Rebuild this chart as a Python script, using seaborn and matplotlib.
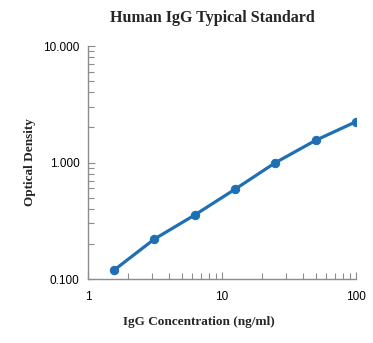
import matplotlib
matplotlib.use("Agg")
import matplotlib.pyplot as plt
import matplotlib.ticker as mticker
import seaborn as sns
import pandas as pd

concentration = [1.5625, 3.125, 6.25, 12.5, 25, 50, 100]
optical_density = [0.119, 0.220, 0.354, 0.589, 0.996, 1.55, 2.24]
y_ticks = [0.1, 1, 10]
y_tick_labels = ["0.100", "1.000", "10.000"]
x_ticks = [1, 10, 100]
x_tick_labels = ["1", "10", "100"]

sns.set_theme(style="white")
plt.rcParams['font.family'] = ['Liberation Sans', 'DejaVu Sans']

df = pd.DataFrame({"conc": concentration, "od": optical_density})

fig = plt.figure(figsize=(3.73, 3.43), dpi=100)
ax = fig.add_axes([88/373, 1 - 279/343, (356 - 88)/373, (279 - 46)/343])

color = "#1f6fb4"
sns.lineplot(data=df, x="conc", y="od", ax=ax, color=color, linewidth=2.3,
             marker="o", markersize=6, markeredgecolor=color, markerfacecolor=color)

ax.set_xscale("log")
ax.set_yscale("log")
ax.set_xlim(1, 100)
ax.set_ylim(0.1, 10)
ax.set_xticks(x_ticks)
ax.set_xticklabels(x_tick_labels)
ax.set_yticks(y_ticks)
ax.set_yticklabels(y_tick_labels)
ax.xaxis.set_minor_locator(mticker.LogLocator(base=10, subs=range(2, 10)))
ax.yaxis.set_minor_locator(mticker.LogLocator(base=10, subs=range(2, 10)))
ax.xaxis.set_minor_formatter(mticker.NullFormatter())
ax.yaxis.set_minor_formatter(mticker.NullFormatter())

grey = "#8c8c8c"
for side in ["top", "right"]:
    ax.spines[side].set_visible(False)
for side in ["left", "bottom"]:
    ax.spines[side].set_color(grey)
    ax.spines[side].set_linewidth(1.0)

ax.tick_params(axis="both", which="both", direction="in", color=grey,
               labelsize=8.5, labelcolor="black", width=0.8,
               bottom=True, left=True, top=False, right=False)
ax.tick_params(axis="both", which="major", length=5)
ax.tick_params(axis="both", which="minor", length=4)
ax.tick_params(axis="y", which="major", pad=6)
ax.tick_params(axis="x", which="major", pad=9)

ax.set_xlabel("")
ax.set_ylabel("Optical Density", family="Liberation Serif",
              fontweight="bold", fontsize=9.5)
ax.yaxis.set_label_coords((36 - 88) / 268, 0.5)
fig.text(199/373, 1 - 322/343, "IgG Concentration (ng/ml)", family="Liberation Serif",
         fontweight="bold", fontsize=9.5, ha="center", va="center")
fig.text(212/373, 1 - 18/343, "Human IgG Typical Standard", family="Liberation Serif",
         fontweight="bold", fontsize=11.5, ha="center", va="center")

fig.savefig("out.png", dpi=100)
